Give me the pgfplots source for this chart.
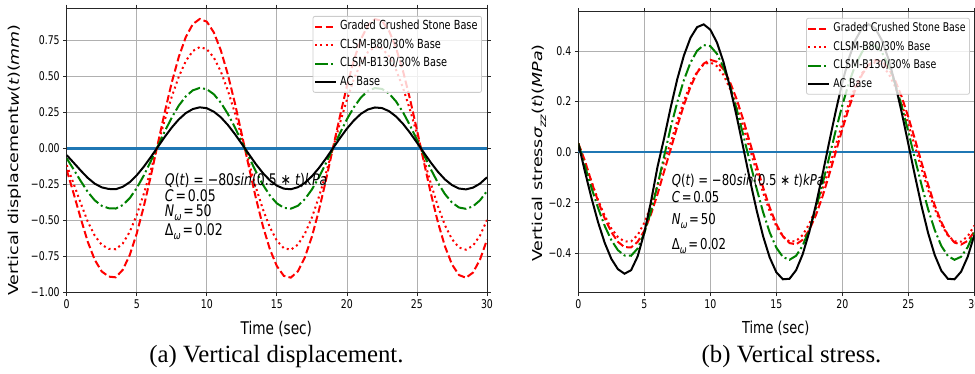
\documentclass[border=0pt]{standalone}
\usepackage{pgfplots}
\pgfplotsset{compat=1.18}
\usepackage{pgfplotstable}
\usepackage{graphicx}
\usepackage{fontspec}
\setmainfont{DejaVu Sans}
\newfontfamily\condsf{DejaVu Sans}[FakeStretch=0.78]
\newfontfamily\capfont{Liberation Serif}

\definecolor{mplblue}{HTML}{1F77B4}
\definecolor{mplgreen}{HTML}{008000}
\definecolor{gridgray}{HTML}{B0B0B0}

\pgfplotstableread{
t red dot green black
0 -0.150 -0.116 -0.069 -0.047
0.5 -0.315 -0.247 -0.147 -0.100
1 -0.486 -0.381 -0.227 -0.154
1.5 -0.648 -0.508 -0.302 -0.205
2 -0.774 -0.606 -0.361 -0.245
2.5 -0.855 -0.670 -0.399 -0.271
3 -0.891 -0.698 -0.416 -0.282
3.5 -0.896 -0.701 -0.418 -0.284
4 -0.844 -0.661 -0.394 -0.267
4.5 -0.741 -0.580 -0.346 -0.235
5 -0.591 -0.463 -0.276 -0.187
5.5 -0.405 -0.317 -0.189 -0.128
6 -0.194 -0.152 -0.090 -0.061
6.5 0.030 0.023 0.014 0.009
7 0.252 0.197 0.118 0.080
7.5 0.458 0.359 0.214 0.145
8 0.635 0.498 0.297 0.201
8.5 0.773 0.606 0.361 0.245
9 0.863 0.676 0.403 0.273
9.5 0.899 0.704 0.420 0.285
10 0.880 0.689 0.411 0.279
10.5 0.806 0.631 0.376 0.255
11 0.681 0.534 0.318 0.216
11.5 0.514 0.403 0.240 0.163
12 0.316 0.247 0.147 0.100
12.5 0.097 0.076 0.045 0.031
13 -0.127 -0.099 -0.059 -0.040
13.5 -0.344 -0.269 -0.160 -0.109
14 -0.539 -0.422 -0.252 -0.171
14.5 -0.700 -0.548 -0.327 -0.222
15 -0.818 -0.641 -0.382 -0.259
15.5 -0.886 -0.694 -0.413 -0.280
16 -0.898 -0.704 -0.419 -0.284
16.5 -0.854 -0.669 -0.399 -0.270
17 -0.757 -0.593 -0.353 -0.240
17.5 -0.614 -0.481 -0.286 -0.194
18 -0.432 -0.338 -0.202 -0.137
18.5 -0.223 -0.175 -0.104 -0.071
19 0.000 0.000 0.000 0.000
19.5 0.222 0.174 0.104 0.070
20 0.432 0.338 0.202 0.137
20.5 0.614 0.481 0.286 0.194
21 0.757 0.593 0.353 0.240
21.5 0.854 0.669 0.399 0.270
22 0.898 0.704 0.419 0.284
22.5 0.886 0.694 0.413 0.280
23 0.818 0.641 0.382 0.259
23.5 0.700 0.548 0.327 0.222
24 0.539 0.422 0.252 0.171
24.5 0.344 0.269 0.160 0.109
25 0.128 0.100 0.060 0.040
25.5 -0.097 -0.076 -0.045 -0.031
26 -0.316 -0.247 -0.147 -0.100
26.5 -0.515 -0.403 -0.240 -0.163
27 -0.681 -0.534 -0.318 -0.216
27.5 -0.806 -0.631 -0.376 -0.255
28 -0.880 -0.689 -0.411 -0.279
28.5 -0.899 -0.704 -0.420 -0.285
29 -0.863 -0.676 -0.403 -0.273
29.5 -0.773 -0.606 -0.361 -0.245
30 -0.635 -0.498 -0.297 -0.201
}\leftdata

\pgfplotstableread{
t red dot green black
0 0.035 0.035 0.035 0.035
0.5 -0.034 -0.040 -0.054 -0.076
1 -0.117 -0.117 -0.141 -0.181
1.5 -0.194 -0.189 -0.221 -0.277
2 -0.261 -0.251 -0.291 -0.358
2.5 -0.315 -0.301 -0.347 -0.421
3 -0.354 -0.335 -0.387 -0.462
3.5 -0.375 -0.353 -0.408 -0.480
4 -0.376 -0.352 -0.409 -0.466
4.5 -0.354 -0.327 -0.380 -0.411
5 -0.310 -0.279 -0.320 -0.318
5.5 -0.246 -0.212 -0.235 -0.197
6 -0.166 -0.130 -0.131 -0.058
6.5 -0.076 -0.038 -0.016 0.055
7 0.012 0.038 0.098 0.177
7.5 0.102 0.125 0.198 0.289
8 0.186 0.203 0.285 0.382
8.5 0.258 0.269 0.354 0.452
9 0.314 0.318 0.401 0.494
9.5 0.350 0.347 0.423 0.505
10 0.365 0.355 0.419 0.484
10.5 0.357 0.340 0.389 0.434
11 0.327 0.305 0.335 0.356
11.5 0.276 0.250 0.260 0.256
12 0.209 0.180 0.169 0.141
12.5 0.128 0.099 0.067 0.017
13 0.039 0.012 -0.039 -0.109
13.5 -0.052 -0.076 -0.142 -0.227
14 -0.139 -0.160 -0.237 -0.332
14.5 -0.218 -0.233 -0.317 -0.416
15 -0.284 -0.292 -0.377 -0.474
15.5 -0.332 -0.333 -0.414 -0.502
16 -0.359 -0.353 -0.425 -0.500
16.5 -0.364 -0.351 -0.409 -0.466
17 -0.346 -0.327 -0.369 -0.403
17.5 -0.307 -0.283 -0.305 -0.315
18 -0.249 -0.222 -0.222 -0.208
18.5 -0.175 -0.146 -0.126 -0.088
19 -0.090 -0.062 -0.021 0.038
19.5 0.000 0.027 0.085 0.161
20 0.090 0.113 0.185 0.275
20.5 0.175 0.193 0.274 0.371
21 0.249 0.261 0.346 0.444
21.5 0.307 0.312 0.396 0.490
22 0.346 0.344 0.422 0.505
22.5 0.364 0.355 0.421 0.489
23 0.359 0.344 0.395 0.442
23.5 0.332 0.311 0.344 0.368
24 0.284 0.259 0.271 0.271
24.5 0.219 0.190 0.182 0.157
25 0.139 0.110 0.081 0.033
25.5 0.052 0.024 -0.025 -0.092
26 -0.040 -0.065 -0.129 -0.212
26.5 -0.128 -0.149 -0.225 -0.319
27 -0.209 -0.224 -0.307 -0.406
27.5 -0.276 -0.285 -0.370 -0.468
28 -0.327 -0.329 -0.410 -0.500
28.5 -0.357 -0.352 -0.425 -0.502
29 -0.365 -0.353 -0.413 -0.472
29.5 -0.350 -0.332 -0.375 -0.413
30 -0.314 -0.290 -0.315 -0.328
}\rightdata

\pgfplotsset{
  mystyle/.style={
    scale only axis, xmin=0, xmax=30,
    grid=major, grid style={gridgray, line width=0.8pt},
    axis line style={black!85, line width=1pt},
    tick align=outside, major tick length=3.5pt,
    tick style={black!85, line width=0.8pt},
    xtick={0,5,10,15,20,25,30}, xticklabels={0,5,10,15,20,25,30},
    tick label style={font=\condsf\fontsize{12}{13}\selectfont},
    legend cell align=left,
    legend image code/.code={\draw[##1] (0pt,0pt) -- (21pt,0pt);},
    legend style={draw=gray!40, line width=0.8pt, rounded corners=2pt, fill=white,
      fill opacity=0.8, text opacity=1, draw opacity=1, inner sep=1pt,
      font=\condsf\fontsize{12.5}{13}\selectfont, row sep=0pt,
      nodes={inner sep=3pt, text height=9.5pt, text depth=3pt}},
  },
  reddash/.style={red, line width=2pt, dash pattern=on 7.4pt off 3.2pt},
  reddot/.style={red, line width=2pt, dash pattern=on 2pt off 3.3pt},
  greendd/.style={mplgreen, line width=2pt, dash pattern=on 12.8pt off 3.2pt on 2pt off 3.2pt},
  blk/.style={black, line width=2pt},
}

\begin{document}
\begin{tikzpicture}
\useasboundingbox (0pt,0pt) rectangle (975pt,-373pt);

% ---------- left panel ----------
\begin{axis}[mystyle, at={(66.7pt,-292.3pt)}, anchor=south west,
  width=420.3pt, height=284.3pt, ymin=-1.0, ymax=0.975,
  ytick={-1,-0.75,-0.5,-0.25,0,0.25,0.5,0.75},
  yticklabels={−1.00,−0.75,−0.50,−0.25,0.00,0.25,0.50,0.75},
  legend style={at={(0.988,0.972)}, anchor=north east}]
\addplot[mplblue, line width=2.5pt, forget plot] coordinates {(0,0) (30,0)};
\addplot[reddash] table[x=t, y=red] {\leftdata};
\addplot[reddot] table[x=t, y=dot] {\leftdata};
\addplot[greendd] table[x=t, y=green] {\leftdata};
\addplot[blk] table[x=t, y=black] {\leftdata};
\legend{Graded Crushed Stone Base, CLSM-B80/30\% Base, CLSM-B130/30\% Base, AC Base}
\node[anchor=base west, inner sep=0pt, font=\condsf\fontsize{16}{16}\selectfont] at (axis cs:7.0,-0.255)
  {\itshape Q\upshape(\itshape t\upshape) = −80\itshape sin\upshape(0.5 ∗ \itshape t\upshape)\itshape kPa};
\node[anchor=base west, inner sep=0pt, font=\condsf\fontsize{16}{16}\selectfont] at (axis cs:7.0,-0.371)
  {\itshape C\upshape\hspace{0.12em}=\hspace{0.12em}0.05};
\node[anchor=base west, inner sep=0pt, font=\condsf\fontsize{16}{16}\selectfont] at (axis cs:7.0,-0.475)
  {\itshape N\raisebox{-0.25em}{\fontsize{11}{11}\selectfont ω}\upshape\hspace{0.12em}=\hspace{0.12em}50};
\node[anchor=base west, inner sep=0pt, font=\condsf\fontsize{16}{16}\selectfont] at (axis cs:7.0,-0.602)
  {Δ\raisebox{-0.25em}{\fontsize{11}{11}\selectfont\itshape ω}\hspace{0.12em}=\hspace{0.12em}0.02};
\end{axis}

% ---------- right panel ----------
\begin{axis}[mystyle, at={(578.3pt,-292.7pt)}, anchor=south west,
  width=396pt, height=281pt, ymin=-0.555, ymax=0.555,
  ytick={-0.4,-0.2,0,0.2,0.4},
  yticklabels={−0.4,−0.2,0.0,0.2,0.4},
  legend style={at={(0.989,0.978)}, anchor=north east, font=\condsf\fontsize{12}{13}\selectfont}]
\addplot[mplblue, line width=2.5pt, forget plot] coordinates {(0,0) (30,0)};
\addplot[reddash] table[x=t, y=red] {\rightdata};
\addplot[reddot] table[x=t, y=dot] {\rightdata};
\addplot[greendd] table[x=t, y=green] {\rightdata};
\addplot[blk] table[x=t, y=black] {\rightdata};
\legend{Graded Crushed Stone Base, CLSM-B80/30\% Base, CLSM-B130/30\% Base, AC Base}
\node[anchor=base west, inner sep=0pt, font=\condsf\fontsize{15}{15}\selectfont] at (axis cs:7.07,-0.132)
  {\itshape Q\upshape(\itshape t\upshape) = −80\itshape sin\upshape(0.5 ∗ \itshape t\upshape)\itshape kPa};
\node[anchor=base west, inner sep=0pt, font=\condsf\fontsize{15}{15}\selectfont] at (axis cs:7.07,-0.198)
  {\itshape C\upshape\hspace{0.12em}=\hspace{0.12em}0.05};
\node[anchor=base west, inner sep=0pt, font=\condsf\fontsize{15}{15}\selectfont] at (axis cs:7.07,-0.286)
  {\itshape N\raisebox{-0.25em}{\fontsize{10.5}{11}\selectfont ω}\upshape\hspace{0.12em}=\hspace{0.12em}50};
\node[anchor=base west, inner sep=0pt, font=\condsf\fontsize{15}{15}\selectfont] at (axis cs:7.07,-0.385)
  {Δ\raisebox{-0.25em}{\fontsize{10.5}{11}\selectfont\itshape ω}\hspace{0.12em}=\hspace{0.12em}0.02};
\end{axis}

% ---------- axis labels ----------
\node[rotate=90, inner sep=0pt, font=\fontsize{17.5}{18}\selectfont] at (15pt,-160pt)
  {\scalebox{1}[0.78]{Vertical displacement\itshape w\upshape(\itshape t\upshape)(\itshape mm\upshape)}};
\node[rotate=90, inner sep=0pt, font=\fontsize{17.5}{18}\selectfont] at (539pt,-153pt)
  {\scalebox{1}[0.78]{Vertical stress\itshape σ\raisebox{-0.3em}{\fontsize{12.5}{13}\selectfont zz}\upshape(\itshape t\upshape)(\itshape MPa\upshape)}};
\node[anchor=base, inner sep=0pt, font=\condsf\fontsize{17.5}{18}\selectfont] at (276.3pt,-334pt) {Time (sec)};
\node[anchor=base, inner sep=0pt, font=\condsf\fontsize{16.5}{18}\selectfont] at (775.8pt,-333pt) {Time (sec)};

% ---------- captions ----------
\node[anchor=base, inner sep=0pt, font=\capfont\fontsize{24.8}{26}\selectfont] at (276.5pt,-362pt) {(a) Vertical displacement.};
\node[anchor=base, inner sep=0pt, font=\capfont\fontsize{24.8}{26}\selectfont] at (791.5pt,-362pt) {(b) Vertical stress.};
\end{tikzpicture}
\end{document}
